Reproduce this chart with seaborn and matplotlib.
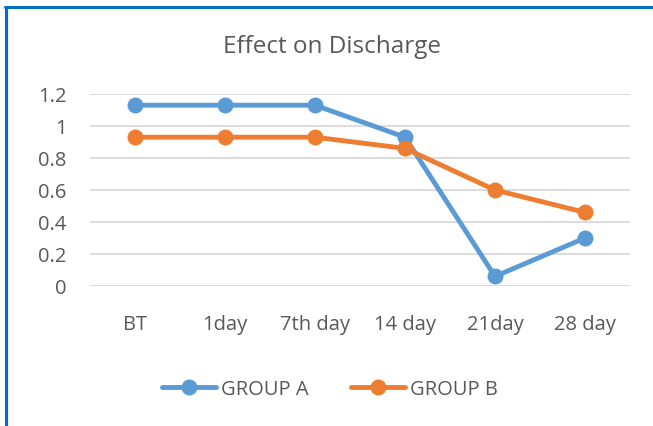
import matplotlib
matplotlib.use("Agg")
import matplotlib.pyplot as plt
import seaborn as sns
import pandas as pd
from matplotlib.lines import Line2D

categories = ["BT", "1day", "7th day", "14 day", "21day", "28 day"]
group_a = [1.13, 1.13, 1.13, 0.93, 0.06, 0.30]
group_b = [0.93, 0.93, 0.93, 0.86, 0.60, 0.46]
series_names = ["GROUP A", "GROUP B"]
y_ticks = [0, 0.2, 0.4, 0.6, 0.8, 1, 1.2]
y_tick_labels = ["0", "0.2", "0.4", "0.6", "0.8", "1", "1.2"]

df = pd.DataFrame({
    "day": categories * 2,
    "value": group_a + group_b,
    "group": [series_names[0]] * len(categories) + [series_names[1]] * len(categories),
})

sns.set_theme(style="white")
plt.rcParams["font.family"] = ["Open Sans", "DejaVu Sans"]
text_color = "#595959"

fig = plt.figure(figsize=(6.53, 4.27), dpi=100)
ax = fig.add_axes([90 / 653, 1 - 287 / 427, 540 / 653, 192 / 427])

palette = {"GROUP A": "#5B9BD5", "GROUP B": "#ED7D31"}
sns.lineplot(data=df, x="day", y="value", hue="group", palette=palette,
             marker="o", markersize=11.5, markeredgewidth=0, linewidth=3.5,
             sort=False, ax=ax, legend=False)
for l in ax.lines:
    l.set_clip_on(False)

ax.set_xlim(-0.5, len(categories) - 0.5)
ax.set_ylim(0, 1.2)
ax.set_yticks(y_ticks)
ax.set_yticklabels(y_tick_labels)
ax.yaxis.grid(True, color="#D9D9D9", linewidth=1.3)
ax.set_axisbelow(True)
for s in ax.spines.values():
    s.set_visible(False)
ax.tick_params(axis="both", length=0, colors=text_color, labelsize=14.5)
ax.tick_params(axis="x", pad=20)
ax.tick_params(axis="y", pad=17)
ax.set_xlabel("")
ax.set_ylabel("")

fig.text(332 / 653, 1 - 47 / 427, "Effect on Discharge", ha="center", va="center",
         fontsize=17.5, color=text_color)

handles = [Line2D([0], [0], color=palette[n], marker="o", markersize=11.5,
                  markeredgewidth=0, linewidth=3.5) for n in series_names]
fig.legend(handles, series_names, loc="center", bbox_to_anchor=(330 / 653, 1 - 390 / 427),
           ncol=2, frameon=False, fontsize=14.5, labelcolor=text_color,
           handlelength=2.7, handletextpad=0.25, columnspacing=2.1)

border = "#0070C0"
fig.add_artist(Line2D([5 / 653, 1], [1 - 8 / 427, 1 - 8 / 427], color=border, linewidth=2.2,
                      transform=fig.transFigure))
fig.add_artist(Line2D([6 / 653, 6 / 653], [0, 1 - 8 / 427], color=border, linewidth=2.2,
                      transform=fig.transFigure))

fig.savefig("out.png", dpi=100, facecolor="white")
